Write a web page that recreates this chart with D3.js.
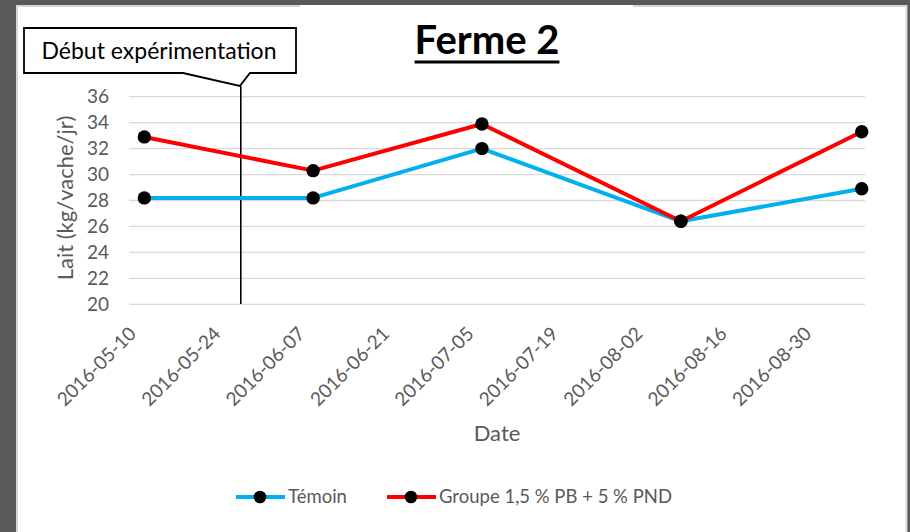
<!DOCTYPE html>
<html>
<head>
<meta charset="utf-8">
<script src="https://cdn.jsdelivr.net/npm/d3@7"></script>
<style>
  body { margin: 0; background: #595959; }
  svg { display: block; font-family: Lato, "Open Sans", sans-serif; }
</style>
</head>
<body>
<svg id="chart"></svg>
<script>
// data
var dates = ["2016-05-10", "2016-06-07", "2016-07-05", "2016-08-07", "2016-09-06"];
var temoin = [28.2, 28.2, 32.0, 26.4, 28.9];
var groupe = [32.9, 30.3, 33.9, 26.4, 33.3];
var seriesNames = ["Témoin", "Groupe 1,5 % PB + 5 % PND"];
var tickDates = ["2016-05-10", "2016-05-24", "2016-06-07", "2016-06-21", "2016-07-05",
                 "2016-07-19", "2016-08-02", "2016-08-16", "2016-08-30"];
var yTicks = [20, 22, 24, 26, 28, 30, 32, 34, 36];
var startDate = "2016-05-26";

var width = 910, height = 532;
var parse = d3.utcParse("%Y-%m-%d");

var svg = d3.select("#chart")
  .attr("width", width)
  .attr("height", height);

// slide frame
svg.append("rect").attr("width", width).attr("height", height).attr("fill", "#595959");
svg.append("rect").attr("x", 16).attr("y", 5).attr("width", 891).attr("height", height)
  .attr("fill", "white");
svg.append("line").attr("x1", 17).attr("x2", 17).attr("y1", 5).attr("y2", height)
  .attr("stroke", "#d6d6d6").attr("stroke-width", 2);
svg.append("line").attr("x1", 906.5).attr("x2", 906.5).attr("y1", 5).attr("y2", height)
  .attr("stroke", "#d6d6d6").attr("stroke-width", 2);
svg.append("line").attr("x1", 16).attr("x2", 300).attr("y1", 6).attr("y2", 6)
  .attr("stroke", "#d6d6d6").attr("stroke-width", 2);
svg.append("line").attr("x1", 633).attr("x2", 907).attr("y1", 6).attr("y2", 6)
  .attr("stroke", "#d6d6d6").attr("stroke-width", 2);

var x = d3.scaleUtc()
  .domain([new Date(Date.UTC(2016, 4, 7, 11)), new Date(Date.UTC(2016, 8, 6, 13))])
  .range([129, 865]);

var y = d3.scaleLinear()
  .domain([20, 36])
  .range([304.3, 96.7]);

// gridlines
svg.append("g")
  .selectAll("line")
  .data(yTicks)
  .join("line")
  .attr("x1", 129).attr("x2", 865)
  .attr("y1", d => y(d)).attr("y2", d => y(d))
  .attr("stroke", "#d9d9d9")
  .attr("stroke-width", 1.3);

// y tick labels
svg.append("g")
  .attr("fill", "#595959")
  .style("font-size", "19px")
  .attr("text-anchor", "end")
  .selectAll("text")
  .data(yTicks)
  .join("text")
  .attr("x", 109)
  .attr("y", d => y(d))
  .attr("dy", "0.35em")
  .text(d => d);

// x tick labels
svg.append("g")
  .attr("fill", "#595959")
  .style("font-size", "19px")
  .attr("text-anchor", "end")
  .selectAll("text")
  .data(tickDates)
  .join("text")
  .attr("transform", d => `translate(${x(parse(d)) - 7},335) rotate(-45)`)
  .text(d => d);

// axis titles
svg.append("text")
  .attr("transform", "translate(73,198) rotate(-90)")
  .attr("text-anchor", "middle")
  .attr("fill", "#595959")
  .style("font-size", "22px")
  .text("Lait (kg/vache/jr)");

svg.append("text")
  .attr("x", 497).attr("y", 441)
  .attr("text-anchor", "middle")
  .attr("fill", "#595959")
  .style("font-size", "22px")
  .text("Date");

// title
var title = svg.append("text")
  .attr("x", 487).attr("y", 54)
  .attr("text-anchor", "middle")
  .style("font-size", "40px")
  .style("font-weight", "bold")
  .text("Ferme 2");
var tb = title.node().getBBox();
svg.append("rect")
  .attr("x", tb.x).attr("y", 60.5)
  .attr("width", tb.width).attr("height", 3)
  .attr("fill", "black");

// experiment start marker
var xs = x(parse(startDate));
svg.append("line")
  .attr("x1", xs).attr("x2", xs)
  .attr("y1", 86).attr("y2", 304)
  .attr("stroke", "black")
  .attr("stroke-width", 1.6);

svg.append("path")
  .attr("d", `M24,28H296V73H250L${xs - 1},86L183,73H24Z`)
  .attr("fill", "white")
  .attr("stroke", "black")
  .attr("stroke-width", 1.8);

svg.append("text")
  .attr("x", 159).attr("y", 59)
  .attr("text-anchor", "middle")
  .style("font-size", "23px")
  .text("Début expérimentation");

// series
var series = [
  {name: seriesNames[0], color: "#00b0f0", values: temoin},
  {name: seriesNames[1], color: "#ff0000", values: groupe}
];

var line = d3.line()
  .x((d, i) => x(parse(dates[i])))
  .y(d => y(d));

var g = svg.append("g");
series.forEach(s => {
  g.append("path")
    .attr("d", line(s.values))
    .attr("fill", "none")
    .attr("stroke", s.color)
    .attr("stroke-width", 4)
    .attr("stroke-linejoin", "round");
});
series.forEach(s => {
  g.append("g")
    .selectAll("circle")
    .data(s.values)
    .join("circle")
    .attr("cx", (d, i) => x(parse(dates[i])))
    .attr("cy", d => y(d))
    .attr("r", 6.7)
    .attr("fill", "black");
});

// legend
var legendX = [236, 387];
var leg = svg.append("g")
  .selectAll("g")
  .data(series)
  .join("g")
  .attr("transform", (d, i) => `translate(${legendX[i]},497)`);
leg.append("line")
  .attr("x1", 0).attr("x2", 49)
  .attr("stroke", d => d.color)
  .attr("stroke-width", 4);
leg.append("circle")
  .attr("cx", 24).attr("r", 6.3)
  .attr("fill", "black");
leg.append("text")
  .attr("x", 52)
  .attr("dy", "0.35em")
  .attr("fill", "#595959")
  .style("font-size", "18.5px")
  .text(d => d.name);
</script>
</body>
</html>
